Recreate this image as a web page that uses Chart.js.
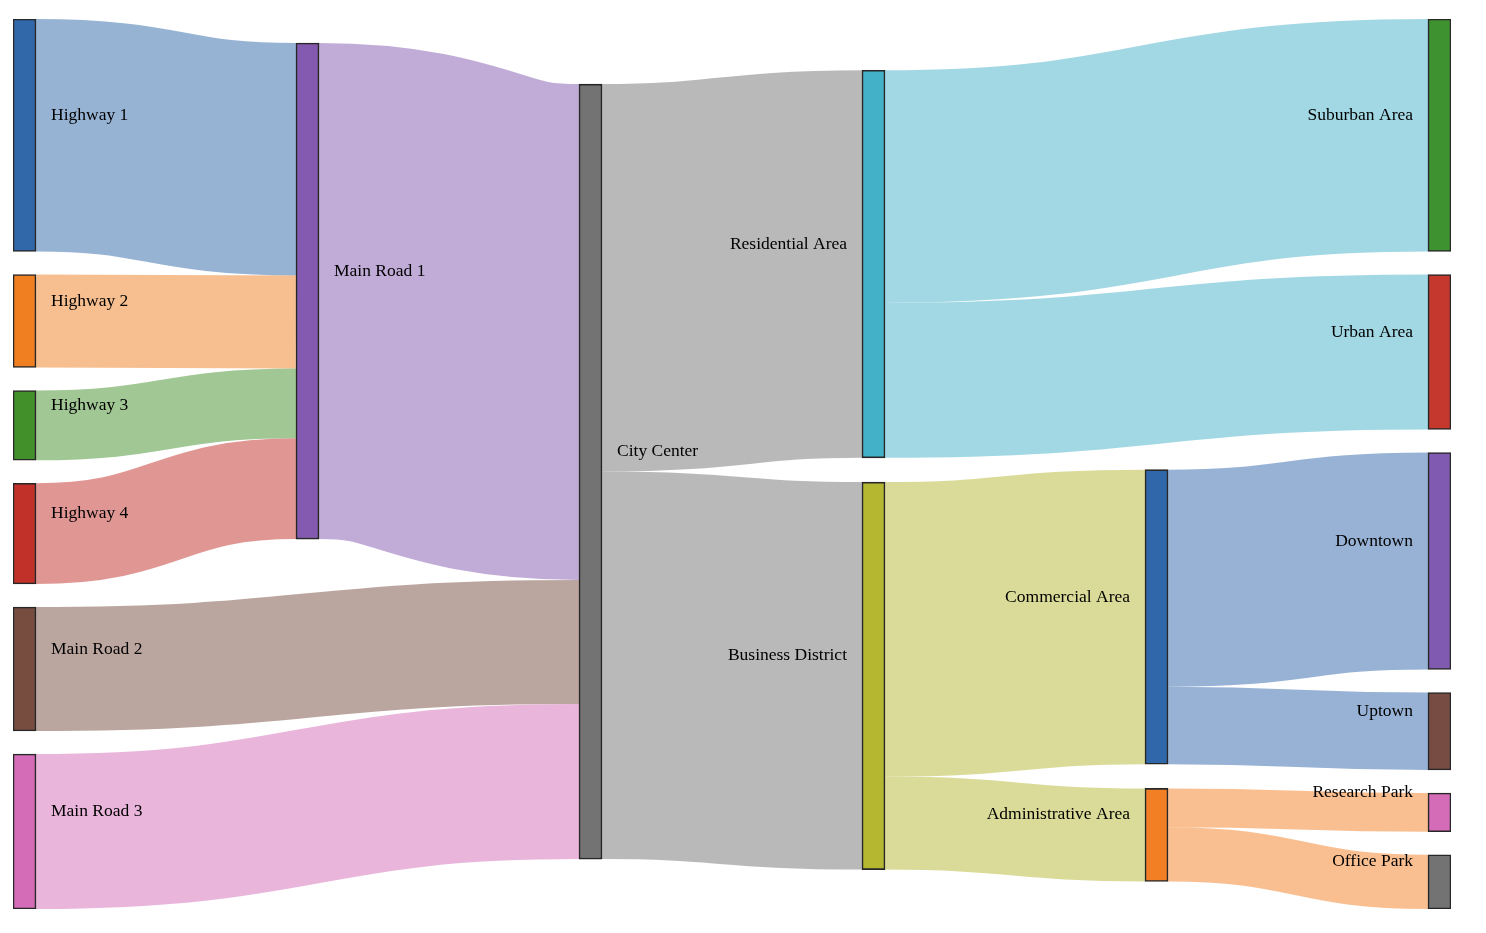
<!DOCTYPE html>
<html><head><meta charset="utf-8">
<script src="https://cdn.jsdelivr.net/npm/chart.js@4"></script>
<style>html,body{margin:0;padding:0;background:#fff}#wrap{width:1486px;height:933px;position:relative}</style>
</head><body><div id="wrap"><canvas id="c"></canvas></div>
<script>
// ---- data ----
const nodeNames = ["Highway 1","Highway 2","Highway 3","Highway 4","Main Road 1","Main Road 2","Main Road 3","City Center","Residential Area","Business District","Suburban Area","Urban Area","Commercial Area","Administrative Area","Downtown","Uptown","Research Park","Office Park"];
const nodeColors = ["#3068aa","#f07f22","#41902a","#c2302a","#8459b0","#774d40","#d56cb8","#737373","#43b1c8","#b5b731","#3e922f","#c4382e","#3066aa","#f37f24","#8059b0","#774d43","#d56cb8","#737373"];
const linkSources = ["Highway 1","Highway 2","Highway 3","Highway 4","Main Road 1","Main Road 2","Main Road 3","City Center","City Center","Residential Area","Residential Area","Business District","Business District","Commercial Area","Commercial Area","Administrative Area","Administrative Area"];
const linkTargets = ["Main Road 1","Main Road 1","Main Road 1","Main Road 1","City Center","City Center","City Center","Residential Area","Business District","Suburban Area","Urban Area","Commercial Area","Administrative Area","Downtown","Uptown","Research Park","Office Park"];
const linkValues = [30,12,9,13,64,16,20,50,50,30,20,38,12,28,10,5,7];

// ---- sankey layout (port of d3-sankey, abstract units) ----
function computeSankey(names, sources, targets, values, cfg){
  const {x0,y0,x1,y1,dx,dy,iterations} = cfg;
  const nodes = names.map((name,i)=>({name,index:i,sourceLinks:[],targetLinks:[]}));
  const byName = new Map(nodes.map(n=>[n.name,n]));
  const links = values.map((v,i)=>({index:i,source:byName.get(sources[i]),target:byName.get(targets[i]),value:v}));
  links.forEach(l=>{l.source.sourceLinks.push(l); l.target.targetLinks.push(l);});
  const sum=(a,f)=>a.reduce((s,d)=>s+f(d),0);
  nodes.forEach(n=>n.value=Math.max(sum(n.sourceLinks,l=>l.value),sum(n.targetLinks,l=>l.value)));
  let current=new Set(nodes), next=new Set(), x=0;
  while(current.size){for(const n of current){n.depth=x;for(const l of n.sourceLinks)next.add(l.target);}x++;current=next;next=new Set();}
  current=new Set(nodes); next=new Set(); x=0;
  while(current.size){for(const n of current){n.height=x;for(const l of n.targetLinks)next.add(l.source);}x++;current=next;next=new Set();}
  const nCols=Math.max(...nodes.map(n=>n.depth))+1;
  const kx=(x1-x0-dx)/(nCols-1);
  const columns=Array.from({length:nCols},()=>[]);
  for(const n of nodes){const i=Math.max(0,Math.min(nCols-1,n.sourceLinks.length?n.depth:nCols-1));n.layer=i;n.x0=x0+i*kx;n.x1=n.x0+dx;columns[i].push(n);}
  const py=Math.min(dy,(y1-y0)/(Math.max(...columns.map(c=>c.length))-1));
  const ascBreadth=(a,b)=>a.y0-b.y0;
  const ascSrc=(a,b)=>ascBreadth(a.source,b.source)||a.index-b.index;
  const ascTgt=(a,b)=>ascBreadth(a.target,b.target)||a.index-b.index;
  function reorderLinks(ns){for(const n of ns){n.sourceLinks.sort(ascTgt);n.targetLinks.sort(ascSrc);}}
  function reorderNodeLinks(n){for(const l of n.targetLinks)l.source.sourceLinks.sort(ascTgt);for(const l of n.sourceLinks)l.target.targetLinks.sort(ascSrc);}
  const ky=Math.min(...columns.map(c=>(y1-y0-(c.length-1)*py)/sum(c,n=>n.value)));
  for(const col of columns){
    let y=y0;
    for(const n of col){n.y0=y;n.y1=y+n.value*ky;y=n.y1+py;for(const l of n.sourceLinks)l.width=l.value*ky;}
    y=(y1-y+py)/(col.length+1);
    col.forEach((n,i)=>{n.y0+=y*(i+1);n.y1+=y*(i+1);});
    reorderLinks(col);
  }
  function targetTop(s,t){let y=s.y0-(s.sourceLinks.length-1)*py/2;for(const l of s.sourceLinks){if(l.target===t)break;y+=l.width+py;}for(const l of t.targetLinks){if(l.source===s)break;y-=l.width;}return y;}
  function sourceTop(s,t){let y=t.y0-(t.targetLinks.length-1)*py/2;for(const l of t.targetLinks){if(l.source===s)break;y+=l.width+py;}for(const l of s.sourceLinks){if(l.target===t)break;y-=l.width;}return y;}
  function tb(ns,y,i,a){for(;i<ns.length;++i){const n=ns[i];const d=(y-n.y0)*a;if(d>1e-6){n.y0+=d;n.y1+=d;}y=n.y1+py;}}
  function bt(ns,y,i,a){for(;i>=0;--i){const n=ns[i];const d=(n.y1-y)*a;if(d>1e-6){n.y0-=d;n.y1-=d;}y=n.y0-py;}}
  function resolve(ns,a){const i=ns.length>>1;const s=ns[i];bt(ns,s.y0-py,i-1,a);tb(ns,s.y1+py,i+1,a);bt(ns,y1,ns.length-1,a);tb(ns,y0,0,a);}
  function relaxLR(a,b){for(let i=1;i<columns.length;++i){const col=columns[i];for(const t of col){let y=0,w=0;for(const l of t.targetLinks){const v=l.value*(t.layer-l.source.layer);y+=targetTop(l.source,t)*v;w+=v;}if(!(w>0))continue;const d=(y/w-t.y0)*a;t.y0+=d;t.y1+=d;reorderNodeLinks(t);}col.sort(ascBreadth);resolve(col,b);}}
  function relaxRL(a,b){for(let i=columns.length-2;i>=0;--i){const col=columns[i];for(const s of col){let y=0,w=0;for(const l of s.sourceLinks){const v=l.value*(l.target.layer-s.layer);y+=sourceTop(s,l.target)*v;w+=v;}if(!(w>0))continue;const d=(y/w-s.y0)*a;s.y0+=d;s.y1+=d;reorderNodeLinks(s);}col.sort(ascBreadth);resolve(col,b);}}
  for(let i=0;i<iterations;++i){const a=Math.pow(0.99,i);const b=Math.max(1-a,(i+1)/iterations);relaxRL(a,b);relaxLR(a,b);}
  for(const n of nodes){let a=n.y0,b=n.y0;for(const l of n.sourceLinks){l.y0=a+l.width/2;a+=l.width;}for(const l of n.targetLinks){l.y1=b+l.width/2;b+=l.width;}}
  return {nodes,links};
}

const W = 1438, H = 890;
const graph = computeSankey(nodeNames, linkSources, linkTargets, linkValues, {x0:0,y0:0,x1:W,y1:H,dx:23,dy:23,iterations:6});

function hexA(hex,a){const n=parseInt(hex.slice(1),16);return `rgba(${n>>16},${(n>>8)&255},${n&255},${a})`;}

const sankeyPlugin = {
  id:'sankeyLinks',
  beforeDatasetsDraw(chart){
    const {ctx, scales:{x, y}} = chart;
    ctx.save();
    for(const l of graph.links){
      const sx=x.getPixelForValue(l.source.x1), tx=x.getPixelForValue(l.target.x0);
      const sy=y.getPixelForValue(l.y0), ty=y.getPixelForValue(l.y1);
      const w=Math.abs(y.getPixelForValue(l.width)-y.getPixelForValue(0));
      const mx=(sx+tx)/2;
      ctx.beginPath(); ctx.moveTo(sx,sy); ctx.bezierCurveTo(mx,sy,mx,ty,tx,ty);
      ctx.lineWidth=w; ctx.strokeStyle=hexA(nodeColors[l.source.index],0.5); ctx.lineCap='butt';
      ctx.stroke();
    }
    ctx.restore();
  },
  afterDatasetsDraw(chart){
    const {ctx, scales:{x, y}} = chart;
    ctx.save();
    ctx.font='17.5px "Liberation Serif", "Times New Roman", Times, serif';
    ctx.fillStyle='#000'; ctx.textBaseline='middle';
    for(const n of graph.nodes){
      const left = n.x0 < W/2;
      const px = left ? x.getPixelForValue(n.x1)+15 : x.getPixelForValue(n.x0)-15;
      const pyc = y.getPixelForValue((n.y0+n.y1)/2) - 20;
      ctx.textAlign = left ? 'left' : 'right';
      ctx.fillText(n.name, px, pyc);
    }
    ctx.restore();
  }
};

new Chart(document.getElementById('c'), {
  type:'bar',
  data:{datasets:[{
    data: graph.nodes.map(n=>({x:(n.x0+n.x1)/2, y:[n.y0,n.y1]})),
    backgroundColor: graph.nodes.map(n=>nodeColors[n.index]),
    borderColor:'rgba(15,15,15,0.9)', borderWidth:1.6, borderSkipped:false,
    barThickness:23
  }]},
  options:{
    responsive:true, maintainAspectRatio:false, animation:false,
    layout:{padding:{left:13,right:35,top:19,bottom:24}},
    plugins:{legend:{display:false},tooltip:{enabled:false}},
    scales:{
      x:{type:'linear',min:0,max:W,display:false,offset:false},
      y:{type:'linear',min:0,max:H,reverse:true,display:false}
    }
  },
  plugins:[sankeyPlugin]
});
</script></body></html>
